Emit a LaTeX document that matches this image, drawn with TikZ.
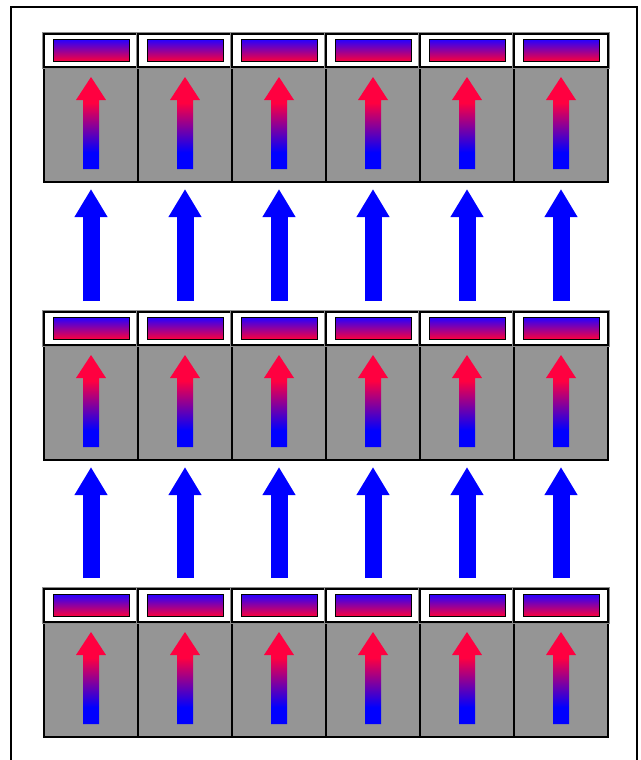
\documentclass[tikz,border=0pt]{standalone}
\usetikzlibrary{arrows.meta,calc}
\definecolor{cellgrey}{RGB}{149,149,149}
\definecolor{arrred}{RGB}{255,0,64}
\definecolor{arrblue}{RGB}{0,0,255}
\definecolor{bartop}{RGB}{40,0,255}
\definecolor{barbot}{RGB}{255,0,56}
\pgfdeclareverticalshading{redblueup}{100bp}{color(0bp)=(arrblue); color(25bp)=(arrblue); color(34bp)=(arrblue); color(61bp)=(arrred); color(75bp)=(arrred); color(100bp)=(arrred)}
\tikzset{
  body/.style={draw=black, line width=1.2pt, fill=cellgrey, minimum width=94pt, minimum height=115pt, inner sep=0pt, outer sep=0pt},
  headbox/.style={draw=black, line width=2.5pt, fill=white, minimum width=94pt, minimum height=33pt, inner sep=0pt, outer sep=0pt,
    preaction={draw=black!45, line width=4.5pt}},
  barbox/.style={draw=black, line width=1pt, top color=bartop, bottom color=barbot, minimum width=76pt, minimum height=22pt, inner sep=0pt, outer sep=0pt},
  redarrow/.style={shading=redblueup},
  bluearrow/.style={draw=arrblue, line width=17pt, -{Triangle[width=31pt,length=28pt]}, shorten <=11pt, shorten >=7pt},
  frame/.style={draw=black, line width=2pt}
}
\begin{document}
\begin{tikzpicture}[x=1pt,y=-1pt]
\clip (0,0) rectangle (640,760);
\fill[white] (0,0) rectangle (640,760);
\draw[frame] (11,7) rectangle (637,790);
\foreach \r/\t in {0/34,1/312,2/589}{
  \foreach \c in {0,...,5}{
    \pgfmathsetmacro\xl{44+94*\c}
    \node[body, anchor=north west] (b\r\c) at (\xl,\t+33) {};
    \node[headbox, anchor=north west] (h\r\c) at (\xl,\t) {};
    \node[barbox] (bar\r\c) at (h\r\c.center) {};
    \shade[redarrow] ($(b\r\c.north)+(0,10)$) -- ++(15,23) -- ++(-7,0) -- ++(0,69) -- ++(-16,0) -- ++(0,-69) -- ++(-7,0) -- cycle;
  }
}
\foreach \c in {0,...,5}{
  \draw[bluearrow] (h1\c.north) -- (b0\c.south);
  \draw[bluearrow] (h2\c.north) -- (b1\c.south);
}
\end{tikzpicture}
\end{document}
